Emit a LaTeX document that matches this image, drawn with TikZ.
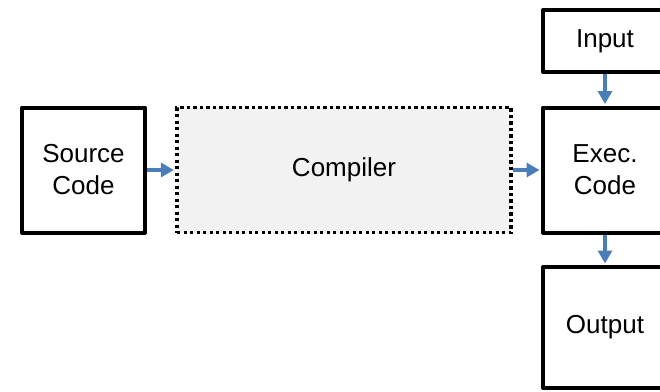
\documentclass[tikz,border=0pt]{standalone}
\usepackage{fontspec}
\setmainfont{Liberation Sans}
\usetikzlibrary{arrows.meta}
\definecolor{flowblue}{RGB}{74,126,187}
\definecolor{compfill}{RGB}{242,242,242}

\begin{document}
\begin{tikzpicture}[x=1pt,y=-1pt,
  box/.style={draw=black,line width=4pt,fill=white,line join=round,
    font=\fontsize{26}{32}\selectfont,align=center,inner sep=0pt},
  stagebox/.style={draw=black,line width=3.3pt,dash pattern=on 3.3pt off 3.2pt,
    fill=compfill,font=\fontsize{26}{32}\selectfont,align=center,inner sep=0pt},
  flow/.style={draw=flowblue,line width=4pt,shorten >=1.5pt,
    -{Triangle[length=13pt,width=14pt]}}]
\useasboundingbox (0,0) rectangle (660,391);
\clip (0,0) rectangle (660,391);

% pipeline stages
\node[box,minimum width=123pt,minimum height=125pt] (src) at (83.5,170) {Source\\Code};
\node[stagebox,minimum width=334pt,minimum height=125pt] (comp) at (344,170) {Compiler};
\node[box,minimum width=124pt,minimum height=125pt] (exec) at (605,170) {Exec.\\Code};
\node[box,minimum width=124pt,minimum height=62pt] (in) at (605,41) {Input};
\node[box,minimum width=124pt,minimum height=121pt] (out) at (605,327.5) {Output};

% data flow
\draw[flow] (src.east) -- (comp.west);
\draw[flow] (comp.east) -- (exec.west);
\draw[flow] (in.south) -- (exec.north);
\draw[flow] (exec.south) -- (out.north);
\end{tikzpicture}
\end{document}
